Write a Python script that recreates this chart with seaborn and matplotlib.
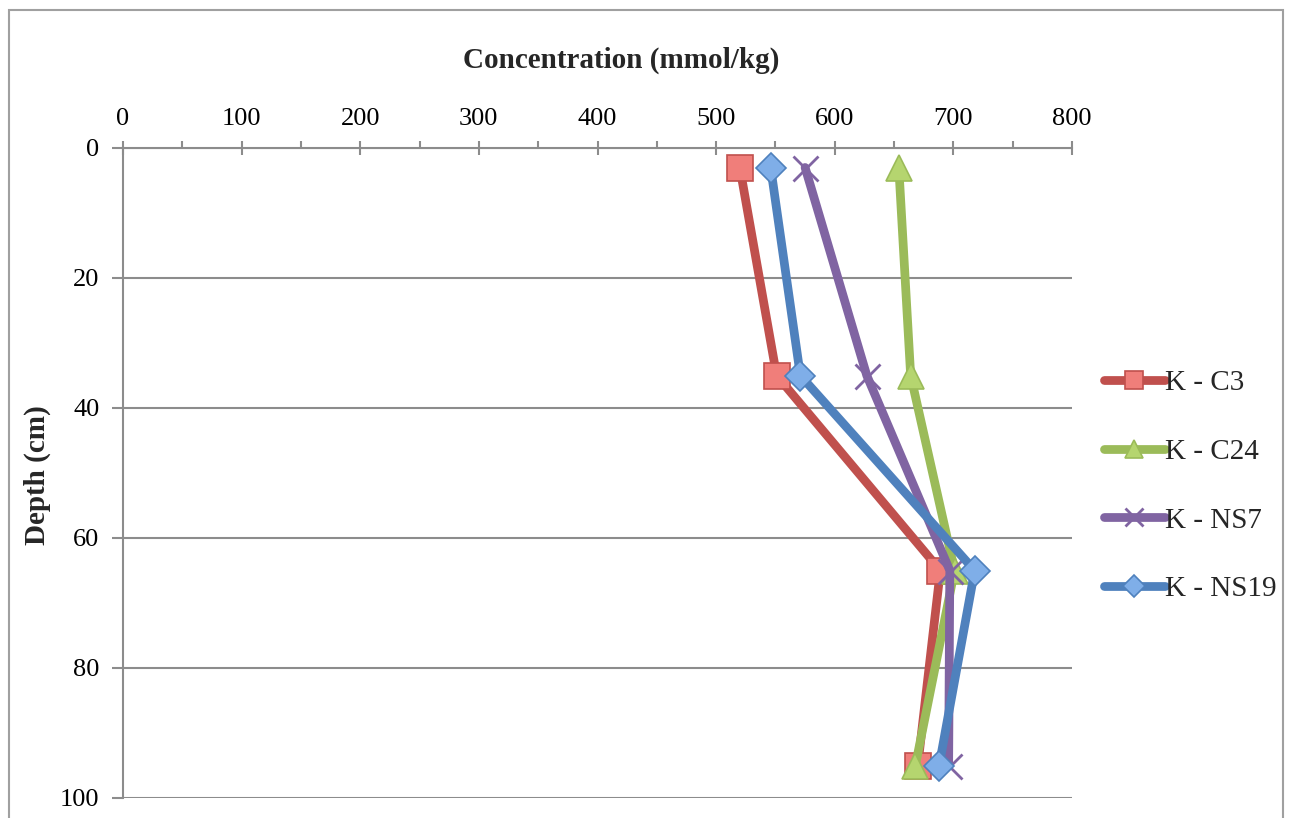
import matplotlib
matplotlib.use("Agg")
import matplotlib.pyplot as plt
import seaborn as sns
import pandas as pd
from matplotlib.patches import Rectangle
from matplotlib.ticker import MultipleLocator

sns.set_style("white")
plt.rcParams['font.family'] = ['Liberation Serif', 'DejaVu Serif']

depth = [3, 35, 65, 95]
k_c3 = [520, 551, 689, 670]
k_c24 = [654, 664, 701, 668]
k_ns7 = [575, 627, 697, 696]
k_ns19 = [546, 571, 718, 688]

series_names = ["K - C3", "K - C24", "K - NS7", "K - NS19"]
series_vals = [k_c3, k_c24, k_ns7, k_ns19]
line_colors = ["#C0504D", "#9BBB59", "#8064A2", "#4F81BD"]
face_colors = ["#F07E7A", "#B5D56F", "#8064A2", "#7FAEE8"]
markers = ["s", "^", "x", "D"]
msizes = [19, 19, 18, 15.5]

fig = plt.figure(figsize=(12.91, 8.18), dpi=100)
ax = fig.add_axes([123/1291, 1 - 798/818, (1072-123)/1291, (798-148)/818])

for name, vals, lc, fc, mk, ms in zip(series_names, series_vals, line_colors, face_colors, markers, msizes):
    df = pd.DataFrame({"conc": vals, "depth": depth})
    kw = dict(markerfacecolor=fc, markeredgecolor=lc, markeredgewidth=1.2)
    if mk == "x":
        kw = dict(markeredgecolor=lc, markeredgewidth=2)
    sns.lineplot(data=df, x="conc", y="depth", sort=False, estimator=None, ax=ax, color=lc,
                 linewidth=6.3, marker=mk, markersize=ms, label=name,
                 solid_capstyle="round", **kw)

ax.set_xlim(0, 800)
ax.set_ylim(100, 0)
ax.xaxis.set_major_locator(MultipleLocator(100))
ax.xaxis.set_minor_locator(MultipleLocator(50))
ax.yaxis.set_major_locator(MultipleLocator(20))
ax.xaxis.tick_top()
ax.xaxis.set_label_position("top")
ax.set_xlabel("")
ax.set_ylabel("")
gc = "#8C8C8C"
ax.grid(axis="y", color=gc, linewidth=1.5)
ax.grid(axis="x", visible=False)
for s in ["right", "bottom"]:
    ax.spines[s].set_visible(False)
for s in ["top", "left"]:
    ax.spines[s].set_color(gc)
    ax.spines[s].set_linewidth(1.5)
ax.tick_params(axis="x", which="major", direction="inout", length=10, width=1.5, color=gc,
               labelsize=19, pad=8, top=True, bottom=False)
ax.tick_params(axis="x", which="minor", direction="out", length=5, width=1.5, color=gc, top=True, bottom=False)
ax.tick_params(axis="y", which="major", direction="out", length=8, width=1.5, color=gc,
               labelsize=19, pad=9, left=True)
for lbl in ax.get_xticklabels() + ax.get_yticklabels():
    lbl.set_color("black")

ax.legend_.remove()
handles, labels = ax.get_legend_handles_labels()
fig.legend(handles, labels, loc="center left", bbox_to_anchor=(1092/1291, 1 - 486/818),
           frameon=False, fontsize=21, handlelength=2.1, handletextpad=0.0,
           labelspacing=1.45, borderaxespad=0, markerscale=0.7)

fig.text(621/1291, 1 - 60/818, "Concentration (mmol/kg)", ha="center", va="center",
         fontsize=21, fontweight="bold")
fig.text(37/1291, 1 - 475/818, "Depth (cm)", ha="center", va="center",
         rotation=90, fontsize=21, fontweight="bold")

fig.patches.append(Rectangle((9/1291, -0.1), (1283-9)/1291, 1.1 - 10/818,
                             transform=fig.transFigure, fill=False,
                             edgecolor="#A0A0A0", linewidth=1.5, figure=fig))

fig.savefig("out.png", dpi=100)
